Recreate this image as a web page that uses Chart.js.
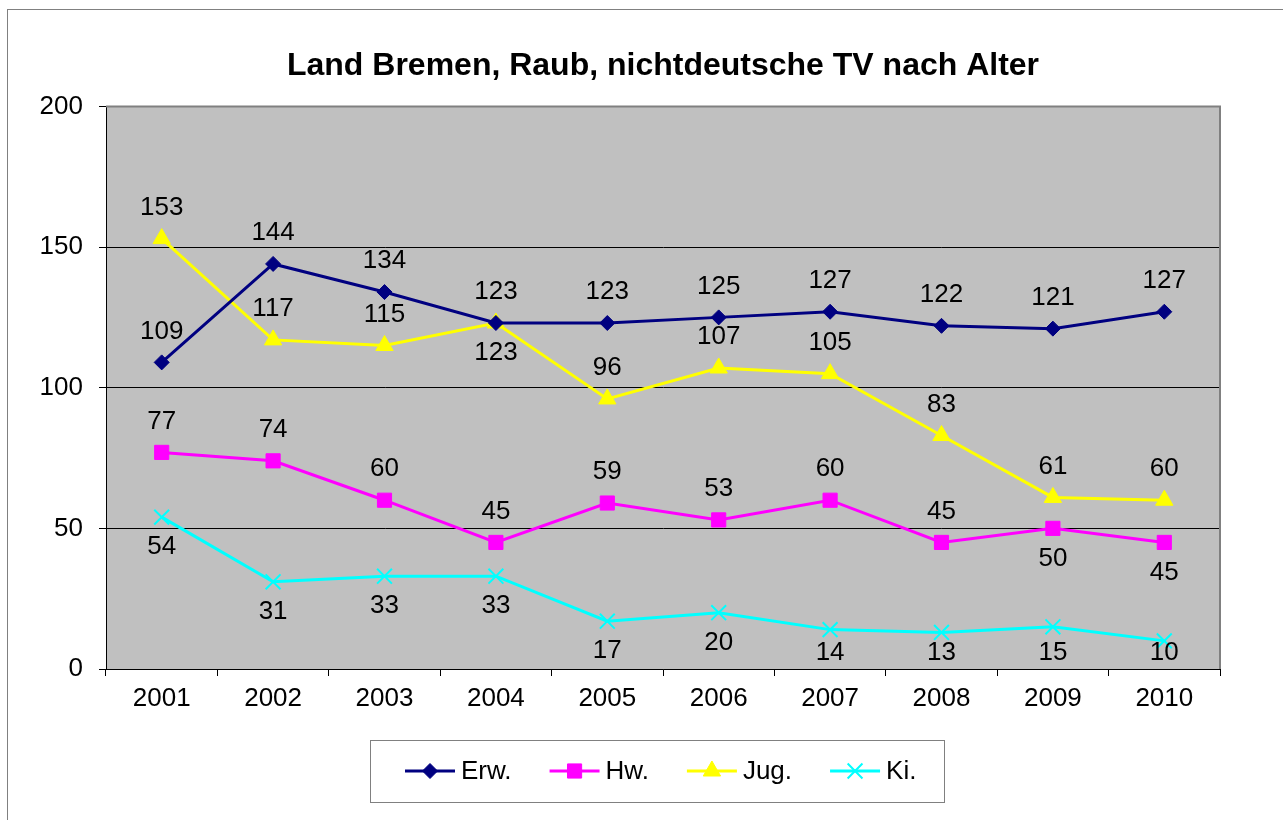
<!DOCTYPE html>
<html>
<head>
<meta charset="utf-8">
<script src="https://cdn.jsdelivr.net/npm/chart.js@4.4.1/dist/chart.umd.min.js"></script>
<style>
  html, body { margin: 0; padding: 0; background: #fff; overflow: hidden; }
  #wrap { width: 1283px; height: 820px; position: relative; }
</style>
</head>
<body>
<div id="wrap"><canvas id="raubChart" width="1283" height="820"></canvas></div>
<script>
const years = ["2001", "2002", "2003", "2004", "2005", "2006", "2007", "2008", "2009", "2010"];
const erw = [109, 144, 134, 123, 123, 125, 127, 122, 121, 127];
const hw = [77, 74, 60, 45, 59, 53, 60, 45, 50, 45];
const jug = [153, 117, 115, 123, 96, 107, 105, 83, 61, 60];
const ki = [54, 31, 33, 33, 17, 20, 14, 13, 15, 10];
const yTicks = [0, 50, 100, 150, 200];

// where each value label sits: "a" = above the point, "b" = below
const labelSide = [
  ["a", "a", "a", "a", "a", "a", "a", "a", "a", "a"],
  ["a", "a", "a", "a", "a", "a", "a", "a", "b", "b"],
  ["a", "a", "a", "b", "a", "a", "a", "a", "a", "a"],
  ["b", "b", "b", "b", "b", "b", "b", "b", "b", "b"],
];

const FONT = "Arial, 'Liberation Sans', sans-serif";

const chartBackground = {
  id: "chartBackground",
  beforeDraw(chart) {
    let ctx = chart.ctx;
    let a = chart.chartArea;
    ctx.save();
    ctx.fillStyle = "#ffffff";
    ctx.fillRect(0, 0, chart.width, chart.height);
    ctx.strokeStyle = "#808080";
    ctx.lineWidth = 1;
    ctx.strokeRect(7.5, 9.5, 1400, 1000);
    ctx.fillStyle = "#c0c0c0";
    ctx.fillRect(a.left, a.top, a.right - a.left, a.bottom - a.top);
    ctx.restore();
  },
  afterDraw(chart) {
    let ctx = chart.ctx;
    let a = chart.chartArea;
    ctx.save();
    ctx.strokeStyle = "#808080";
    ctx.lineWidth = 2;
    ctx.beginPath();
    ctx.moveTo(a.left, a.top);
    ctx.lineTo(a.right, a.top);
    ctx.lineTo(a.right, a.bottom);
    ctx.stroke();
    ctx.restore();
  },
};

const valueLabels = {
  id: "valueLabels",
  afterDatasetsDraw(chart) {
    let ctx = chart.ctx;
    let a = chart.chartArea;
    ctx.save();
    ctx.font = "26px " + FONT;
    ctx.fillStyle = "#000000";
    ctx.textAlign = "center";
    ctx.textBaseline = "middle";
    chart.data.datasets.forEach((ds, i) => {
      let meta = chart.getDatasetMeta(i);
      meta.data.forEach((pt, j) => {
        let y = labelSide[i][j] === "a" ? pt.y - 31 : pt.y + 30;
        y = Math.min(y, a.bottom - 16);
        ctx.fillText(String(ds.data[j]), pt.x, y);
      });
    });
    ctx.restore();
  },
};

const boxLegend = {
  id: "boxLegend",
  afterDraw(chart) {
    let ctx = chart.ctx;
    let boxX = 370, boxY = 740, boxW = 574, boxH = 62;
    let midY = boxY + boxH / 2;
    ctx.save();
    ctx.fillStyle = "#ffffff";
    ctx.fillRect(boxX, boxY, boxW, boxH);
    ctx.strokeStyle = "#808080";
    ctx.lineWidth = 1;
    ctx.strokeRect(boxX + 0.5, boxY + 0.5, boxW, boxH);
    ctx.font = "26px " + FONT;
    ctx.textBaseline = "middle";
    ctx.textAlign = "left";
    let x = boxX + 35;
    chart.data.datasets.forEach((ds) => {
      ctx.strokeStyle = ds.borderColor;
      ctx.fillStyle = ds.borderColor;
      ctx.lineWidth = ds.borderWidth;
      ctx.beginPath();
      ctx.moveTo(x, midY);
      ctx.lineTo(x + 50, midY);
      ctx.stroke();
      ctx.lineWidth = ds.pointBorderWidth;
      Chart.helpers.drawPoint(ctx, {
        pointStyle: ds.pointStyle,
        radius: ds.pointRadius,
        borderWidth: ds.pointBorderWidth,
        rotation: 0,
      }, x + 25, midY);
      ctx.fillStyle = "#000000";
      ctx.fillText(ds.label, x + 56, midY + 1);
      x += 56 + ctx.measureText(ds.label).width + 38;
    });
    ctx.restore();
  },
};

function makeSeries(label, data, color, style, radius, bw) {
  return {
    label: label,
    data: data,
    borderColor: color,
    backgroundColor: color,
    pointBackgroundColor: color,
    pointBorderColor: color,
    borderWidth: 3,
    pointStyle: style,
    pointRadius: radius,
    pointHoverRadius: radius,
    pointBorderWidth: bw,
    tension: 0,
  };
}

let ctx = document.getElementById("raubChart");
new Chart(ctx, {
  type: "line",
  data: {
    labels: years,
    datasets: [
      makeSeries("Erw.", erw, "#000080", "rectRot", 7.5, 1),
      makeSeries("Hw.", hw, "#ff00ff", "rect", 10, 1),
      makeSeries("Jug.", jug, "#ffff00", "triangle", 10, 1),
      makeSeries("Ki.", ki, "#00ffff", "crossRot", 10.5, 2),
    ],
  },
  options: {
    responsive: false,
    animation: false,
    layout: { padding: { left: 0, right: 63, top: 0, bottom: 0 } },
    scales: {
      x: {
        offset: true,
        grid: {
          offset: true,
          drawOnChartArea: false,
          color: "#000000",
          tickLength: 7,
        },
        border: { color: "#000000", width: 1 },
        ticks: {
          color: "#000000",
          font: { family: FONT, size: 26 },
          padding: 7,
          maxRotation: 0,
        },
        afterFit(scale) { scale.height = 151; },
      },
      y: {
        min: 0,
        max: 200,
        afterBuildTicks(scale) { scale.ticks = yTicks.map((v) => ({ value: v })); },
        grid: { color: "#000000", tickLength: 7 },
        border: { color: "#000000", width: 1 },
        ticks: {
          color: "#000000",
          font: { family: FONT, size: 26 },
          padding: 16,
        },
        afterFit(scale) { scale.width = 106; },
      },
    },
    plugins: {
      legend: { display: false },
      tooltip: { enabled: false },
      title: {
        display: true,
        fullSize: false,
        text: "Land Bremen, Raub, nichtdeutsche TV nach Alter",
        color: "#000000",
        font: { family: FONT, size: 32, weight: "bold", lineHeight: 1.2 },
        padding: { top: 47, bottom: 21 },
      },
    },
  },
  plugins: [chartBackground, valueLabels, boxLegend],
});
</script>
</body>
</html>
